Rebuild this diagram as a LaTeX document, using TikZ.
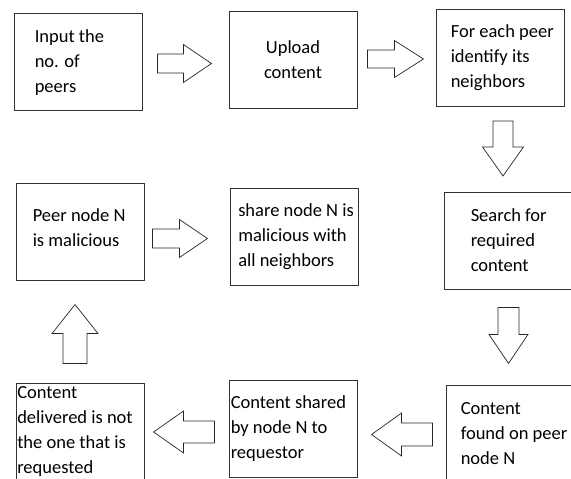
\documentclass[tikz,border=0pt]{standalone}
\usepackage{fontspec}
\setmainfont{Carlito}
\usetikzlibrary{positioning,calc}
\begin{document}
\begin{tikzpicture}[x=1pt, y=-1pt, line join=miter,
		box/.style={draw=black!80, line width=0.9pt, minimum width=128pt, minimum height=97pt, inner sep=0pt},
		txt/.style={align=left, inner sep=0pt, font=\fontsize{18.5pt}{25pt}\selectfont},
		blockarrow/.style={draw=black!85, line width=0.7pt, fill=white}]
	% Khung hình
	\useasboundingbox (0,0) rectangle (571,479);
	
	% Các hộp
	\node[box] (input) at (78,61.5) {};
	\node[box] (upload) at (293,59.5) {};
	\node[box] (neigh) at (500,58) {};
	\node[box] (peer) at (80,231.5) {};
	\node[box] (share) at (294.5,237) {};
	\node[box] (search) at (508,240.5) {};
	\node[box] (deliv) at (80,431.5) {};
	\node[box] (shared) at (293,428.5) {};
	\node[box] (found) at (510,433.5) {};
	
	% Chữ trong hộp
	\node[txt, right=21pt of input.west, yshift=-1.5pt] (input-t) {Input the\\no. of\\peers};
	\node[txt, align=center] (upload-t) at (upload) {Upload\\content};
	\node[txt, right=15pt of neigh.west] (neigh-t) {For each peer\\identify its\\neighbors};
	\node[txt, right=17pt of peer.west, yshift=4pt] (peer-t) {Peer node N\\is malicious};
	\node[txt, right=8pt of share.west] (share-t) {share node N is\\malicious with\\all neighbors};
	\node[txt, right=27pt of search.west] (search-t) {Search for\\required\\content};
	\node[txt, right=1.5pt of deliv.west] (deliv-t) {Content\\delivered is not\\the one that is\\requested};
	\node[txt, right=2pt of shared.west] (shared-t) {Content shared\\by node N to\\requestor};
	\node[txt, right=15pt of found.west] (found-t) {Content\\found on peer\\node N};
	
	% Mũi tên khối
	\foreach \from/\dx/\dy/\ang/\al/\as/\aw/\ah in {input.east/15/2/0/54/26/9.5/19, upload.east/10/-0.5/0/56/27/9/18.5, peer.east/8/7/0/55/27/9.5/19, neigh.south/3/14/-90/55/26/10/20.5, search.south/0.5/18/-90/56/27/10.5/19.5, deliv.north/-5/-19/90/59/30/12/23, shared.west/-14/3.5/180/61/31/11/21, found.west/-13/1/180/61/31/11.5/21.5}
	\draw[blockarrow, shift={($(\from)+(\dx,\dy)$)}, rotate=\ang] (0,-\aw) -- (\as,-\aw) -- (\as,-\ah) -- (\al,0) -- (\as,\ah) -- (\as,\aw) -- (0,\aw) -- cycle;
\end{tikzpicture}
\end{document}
